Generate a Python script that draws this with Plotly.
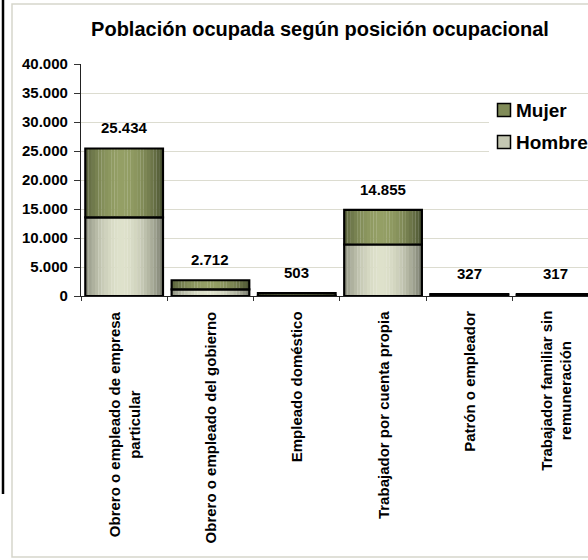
import math
import plotly.graph_objects as go

# Categories and values (persons employed by occupational position)
categorias = [
    "Obrero o empleado de empresa<br>particular",
    "Obrero o empleado del gobierno",
    "Empleado doméstico",
    "Trabajador por cuenta propia",
    "Patrón o empleador",
    "Trabajador familiar sin<br>remuneración",
]
hombre = [13545, 1150, 40, 8880, 250, 150]
mujer = [11889, 1562, 463, 5975, 77, 167]
totales = [25434, 2712, 503, 14855, 327, 317]
y_ticks = [0, 5000, 10000, 15000, 20000, 25000, 30000, 35000, 40000]

FONT = "Liberation Sans, Arial, sans-serif"
W, H = 588, 560
L, R, T, B = 81, 0, 64, 264
PW, PH = W - L - R, H - T - B


def px_x(px):
    return (px - L) / PW


def px_y(py):
    return (H - B - py) / PH


def fmt(v):
    return f"{v:,}".replace(",", ".")


def shade(edge, center, t):
    # cylinder-like shading: dark edges, light centre
    k = math.cos((t - 0.47) / 0.53 * math.pi / 2)
    k = max(0.0, min(1.0, k)) ** 0.8
    c = [round(e + (m - e) * k) for e, m in zip(edge, center)]
    return f"rgb({c[0]},{c[1]},{c[2]})"


BAR_W = 0.9
N = 24
strip = BAR_W / N

fig = go.Figure()

series = [
    ("Hombre", hombre, [0] * len(hombre), (116, 119, 104), (222, 225, 203)),
    ("Mujer", mujer, hombre, (70, 78, 46), (148, 159, 101)),
]

for name, vals, base, edge, center in series:
    for k in range(N):
        t = (k + 0.5) / N
        fig.add_trace(go.Bar(
            x=categorias, y=vals, base=base,
            offset=-BAR_W / 2 + k * strip, width=strip * 1.05,
            marker=dict(color=shade(edge, center, t), line=dict(width=0)),
            showlegend=False, hoverinfo="skip",
        ))
    # outline of each segment
    fig.add_trace(go.Bar(
        x=categorias, y=vals, base=base, name=name,
        offset=-BAR_W / 2, width=BAR_W,
        marker=dict(color="rgba(0,0,0,0)", line=dict(color="black", width=2.2)),
        showlegend=False,
    ))

annotations = []
# totals above the bars
for cat, tot in zip(categorias, totales):
    annotations.append(dict(
        x=cat, y=tot, xref="x", yref="y", text=f"<b>{fmt(tot)}</b>",
        showarrow=False, yanchor="bottom", yshift=10,
        font=dict(family=FONT, size=15, color="black"),
    ))
# rotated category labels
for cat in categorias:
    annotations.append(dict(
        x=cat, y=0, xref="x", yref="paper", text=f"<b>{cat}</b>",
        showarrow=False, textangle=-90, align="center",
        xanchor="center", yanchor="top", yshift=-13,
        font=dict(family=FONT, size=15, color="black"),
    ))

# legend drawn by hand
shapes = [
    dict(type="rect", xref="paper", yref="paper",
         x0=px_x(489), x1=px_x(600), y0=px_y(170), y1=px_y(98),
         fillcolor="white", line=dict(width=0), layer="above"),
]
legend_items = [
    ("Mujer", (128, 139, 88), 110),
    ("Hombre", (196, 199, 178), 142),
]
for label, col, cy in legend_items:
    shapes.append(dict(
        type="rect", xref="paper", yref="paper",
        x0=px_x(497.5), x1=px_x(510.5), y0=px_y(cy + 6.5), y1=px_y(cy - 6.5),
        fillcolor=f"rgb{col}", line=dict(color="black", width=1.5), layer="above",
    ))
    annotations.append(dict(
        x=px_x(514), y=px_y(cy), xref="paper", yref="paper",
        text=f"<b>{label}</b>", showarrow=False, xanchor="left", yanchor="middle",
        font=dict(family=FONT, size=19, color="black"),
    ))

# outer frame of the chart area and the dark rule on the left
shapes += [
    dict(type="rect", xref="paper", yref="paper",
         x0=px_x(12), x1=px_x(620), y0=px_y(557), y1=px_y(4),
         line=dict(color="#d6d6cb", width=1.5), layer="below"),
    dict(type="line", xref="paper", yref="paper",
         x0=px_x(3), x1=px_x(3), y0=px_y(0), y1=px_y(494),
         line=dict(color="black", width=2.5)),
]

fig.update_layout(
    width=W, height=H, autosize=False,
    margin=dict(l=L, r=R, t=T, b=B, pad=0),
    paper_bgcolor="white", plot_bgcolor="white",
    barmode="overlay", separators=",.",
    title=dict(
        text="<b>Población ocupada según posición ocupacional</b>",
        x=320 / W, xanchor="center", xref="container",
        y=1 - 29 / H, yanchor="middle",
        font=dict(family=FONT, size=20, color="black"),
    ),
    xaxis=dict(
        type="category", categoryorder="array", categoryarray=categorias,
        range=[-0.5, -0.5 + PW / 86.3], showticklabels=False,
        ticks="outside", tickson="boundaries", ticklen=4, tickcolor="#333",
        showline=True, linecolor="#222", linewidth=1.2,
        showgrid=False, zeroline=False, fixedrange=True,
    ),
    yaxis=dict(
        range=[0, 40000], tickmode="array", tickvals=y_ticks,
        ticktext=[f"<b>{fmt(v)}</b>" for v in y_ticks],
        ticks="outside", ticklen=6, tickcolor="#333", ticklabelstandoff=3,
        tickfont=dict(family=FONT, size=15, color="black"),
        showline=True, linecolor="#222", linewidth=1.2,
        showgrid=True, gridcolor="#dcdcd0", gridwidth=1,
        zeroline=False, fixedrange=True,
    ),
    annotations=annotations, shapes=shapes, showlegend=False,
)

fig.write_html("out.html")
